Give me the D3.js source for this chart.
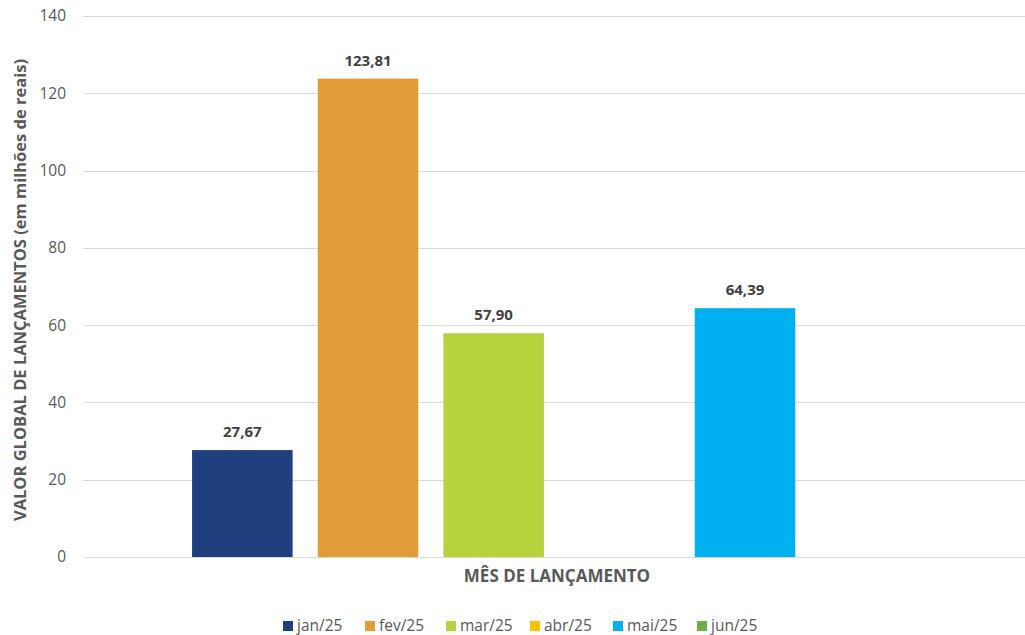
<!DOCTYPE html>
<html><head><meta charset="utf-8">
<script src="https://cdn.jsdelivr.net/npm/d3@7"></script>
<style>body{margin:0;background:#fff}svg{display:block}text{font-family:"Open Sans",sans-serif}</style>
</head><body><svg id="c" width="1025" height="635"></svg>
<script>
const categories = ["jan/25","fev/25","mar/25","abr/25","mai/25","jun/25"];
const values = [27.67, 123.81, 57.90, null, 64.39, null];
const colors = ["#203F7E","#E29C3A","#B4D33C","#FFC000","#00B0F0","#70AD47"];
const yTicks = [0,20,40,60,80,100,120,140];
const yTitle = "VALOR GLOBAL DE LANÇAMENTOS (em milhões de reais)";
const xTitle = "MÊS DE LANÇAMENTO";

const svg = d3.select("#c");
const y = d3.scaleLinear().domain([0,140]).range([557,16]);
const x = d3.scaleBand().domain(categories).range([179.5,933.5]).paddingInner(0.2).paddingOuter(0.1);
const fmt = v => d3.format(".2f")(v).replace(".", ",");

svg.append("g").selectAll("line").data(yTicks).join("line")
  .attr("x1",83).attr("x2",1025).attr("y1",d=>Math.round(y(d))+0.5).attr("y2",d=>Math.round(y(d))+0.5)
  .attr("stroke","#d9d9d9").attr("stroke-width",1);
svg.append("g").selectAll("text").data(yTicks).join("text")
  .attr("x",66).attr("y",d=>y(d)).attr("dy","0.35em").attr("text-anchor","end")
  .attr("fill","#595959").attr("font-size",15.5).text(d=>d);

const data = categories.map((c,i)=>({c,v:values[i],col:colors[i]})).filter(d=>d.v!=null);
svg.append("g").selectAll("rect").data(data).join("rect")
  .attr("x",d=>x(d.c)).attr("width",x.bandwidth()).attr("y",d=>y(d.v)).attr("height",d=>y(0)-y(d.v))
  .attr("fill",d=>d.col);
svg.append("g").selectAll("text").data(data).join("text")
  .attr("x",d=>x(d.c)+x.bandwidth()/2).attr("y",d=>y(d.v)-13).attr("text-anchor","middle")
  .attr("fill","#404040").attr("font-size",15).attr("font-weight","bold").text(d=>fmt(d.v));

svg.append("text").attr("transform","translate(26,290) rotate(-90)").attr("text-anchor","middle")
  .attr("fill","#595959").attr("font-size",16.5).attr("font-weight","bold").text(yTitle);
svg.append("text").attr("x",557).attr("y",582).attr("text-anchor","middle")
  .attr("fill","#595959").attr("font-size",17).attr("font-weight","bold").text(xTitle);

const legX = [283,365,446,530,613,697];
const lg = svg.append("g").selectAll("g").data(categories).join("g")
  .attr("transform",(d,i)=>`translate(${legX[i]},626)`);
lg.append("rect").attr("x",0).attr("y",-5).attr("width",10).attr("height",10).attr("fill",(d,i)=>colors[i]);
lg.append("text").attr("x",14).attr("y",0).attr("dy","0.35em").attr("fill","#595959").attr("font-size",15.5).text(d=>d);
</script></body></html>
